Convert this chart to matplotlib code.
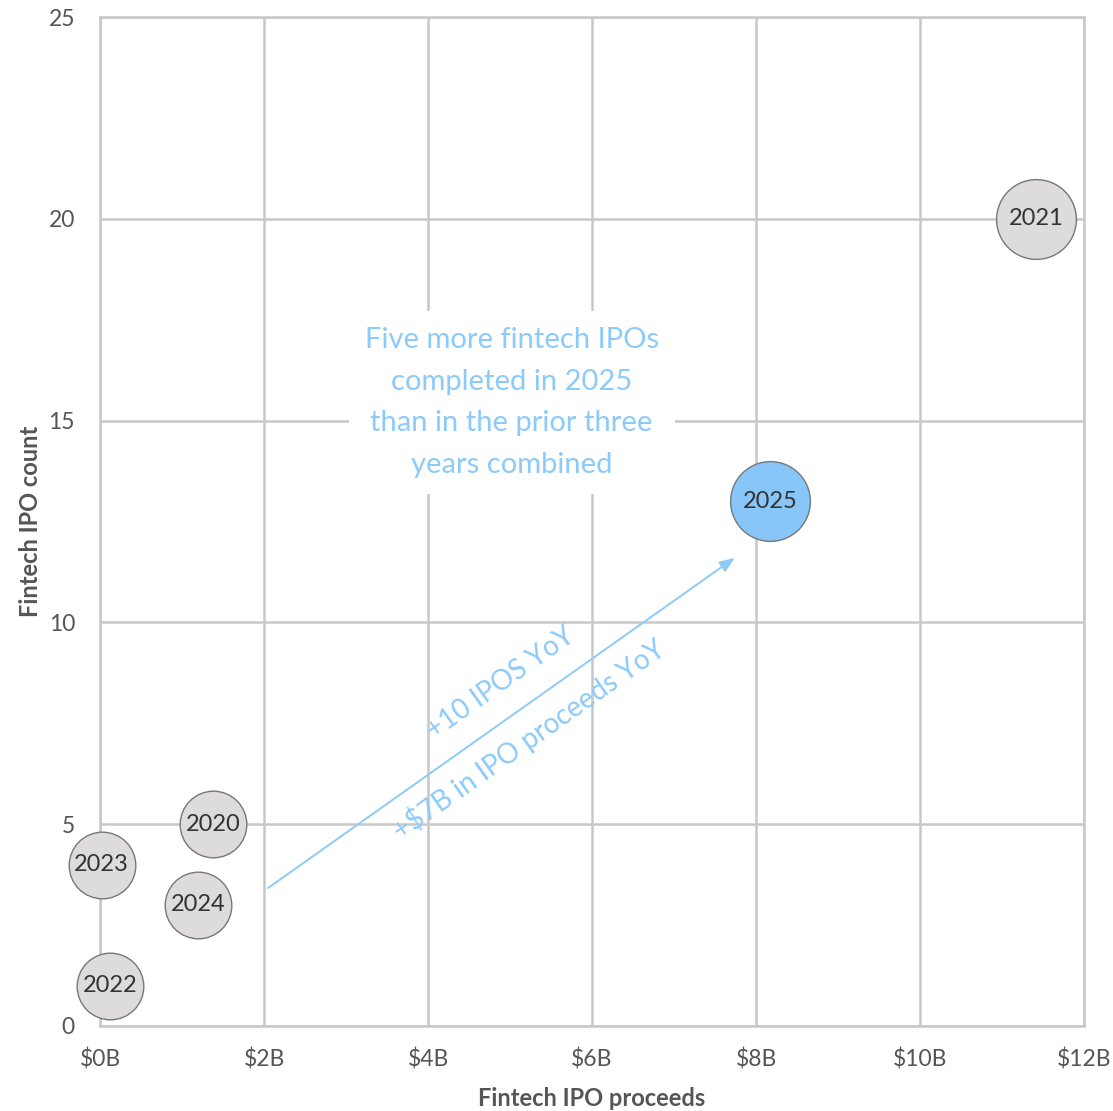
import matplotlib
matplotlib.use("Agg")
import matplotlib.pyplot as plt

# Data
years = ['2020', '2021', '2022', '2023', '2024', '2025']
proceeds_b = [1.38, 11.42, 0.12, 0.02, 1.2, 8.17]
ipo_count = [5, 20, 1, 4, 3, 13]
x_ticks = [0, 2, 4, 6, 8, 10, 12]
y_ticks = [0, 5, 10, 15, 20, 25]
x_tick_labels = ['$0B', '$2B', '$4B', '$6B', '$8B', '$10B', '$12B']

callout_text = "Five more fintech IPOs\ncompleted in 2025\nthan in the prior three\nyears combined"
arrow_start = (2.05, 3.42)
arrow_end = (7.74, 11.6)

plt.rcParams['font.family'] = ['Lato', 'DejaVu Sans']

GRID = '#c8c8c8'
TEXT = '#555555'
BLUE = '#88c5f8'
BLUE_TXT = '#8ccafa'

fig = plt.figure(figsize=(11.13, 11.11), dpi=100)
ax = fig.add_axes([100 / 1113, 1 - 1026 / 1111, 984 / 1113, 1009 / 1111])

ax.set_xlim(0, 12)
ax.set_ylim(0, 25)
ax.set_xticks(x_ticks)
ax.set_xticklabels(x_tick_labels)
ax.set_yticks(y_ticks)
ax.grid(True, color=GRID, lw=1.8, zorder=0)
ax.set_axisbelow(True)
for sp in ax.spines.values():
    sp.set_color(GRID)
    sp.set_linewidth(1.8)
ax.tick_params(length=0, labelsize=16.5, labelcolor=TEXT)
ax.tick_params(axis='x', pad=16)
ax.tick_params(axis='y', pad=18)

# bubbles - 2021 and 2025 are drawn bigger
for yr, x, y in zip(years, proceeds_b, ipo_count):
    big = yr in ('2021', '2025')
    face = BLUE if yr == '2025' else '#dddcdb'
    ax.scatter(x, y, s=3300 if big else 2300, color=face, edgecolor='#777777',
               linewidth=1.0, zorder=3, clip_on=False)
    ax.text(x, y, yr, ha='center', va='center', fontsize=17, color='#333333', zorder=4)

# callout with white box hiding the grid
ax.text(5.02, 15.45, callout_text, ha='center', va='center', fontsize=21,
        color=BLUE_TXT, linespacing=1.75, zorder=2,
        bbox=dict(boxstyle='square,pad=0.55', fc='white', ec='none'))

ax.annotate('', xy=arrow_end, xytext=arrow_start,
            arrowprops=dict(arrowstyle='-|>,head_length=0.9,head_width=0.35',
                            color=BLUE_TXT, lw=1.4, shrinkA=0, shrinkB=0), zorder=2)
ax.text(4.88, 8.5, '+10 IPOS YoY', rotation=35.2, ha='center', va='center',
        fontsize=20, color=BLUE_TXT, rotation_mode='anchor')
ax.text(5.23, 7.11, '+$7B in IPO proceeds YoY', rotation=35.2, ha='center', va='center',
        fontsize=20, color=BLUE_TXT, rotation_mode='anchor')

ax.set_xlabel('Fintech IPO proceeds', fontsize=17, fontweight='bold', color=TEXT, labelpad=12)
ax.set_ylabel('Fintech IPO count', fontsize=17, fontweight='bold', color=TEXT)
ax.yaxis.set_label_coords(-0.059, 0.5)

fig.savefig('out.png', dpi=100)
